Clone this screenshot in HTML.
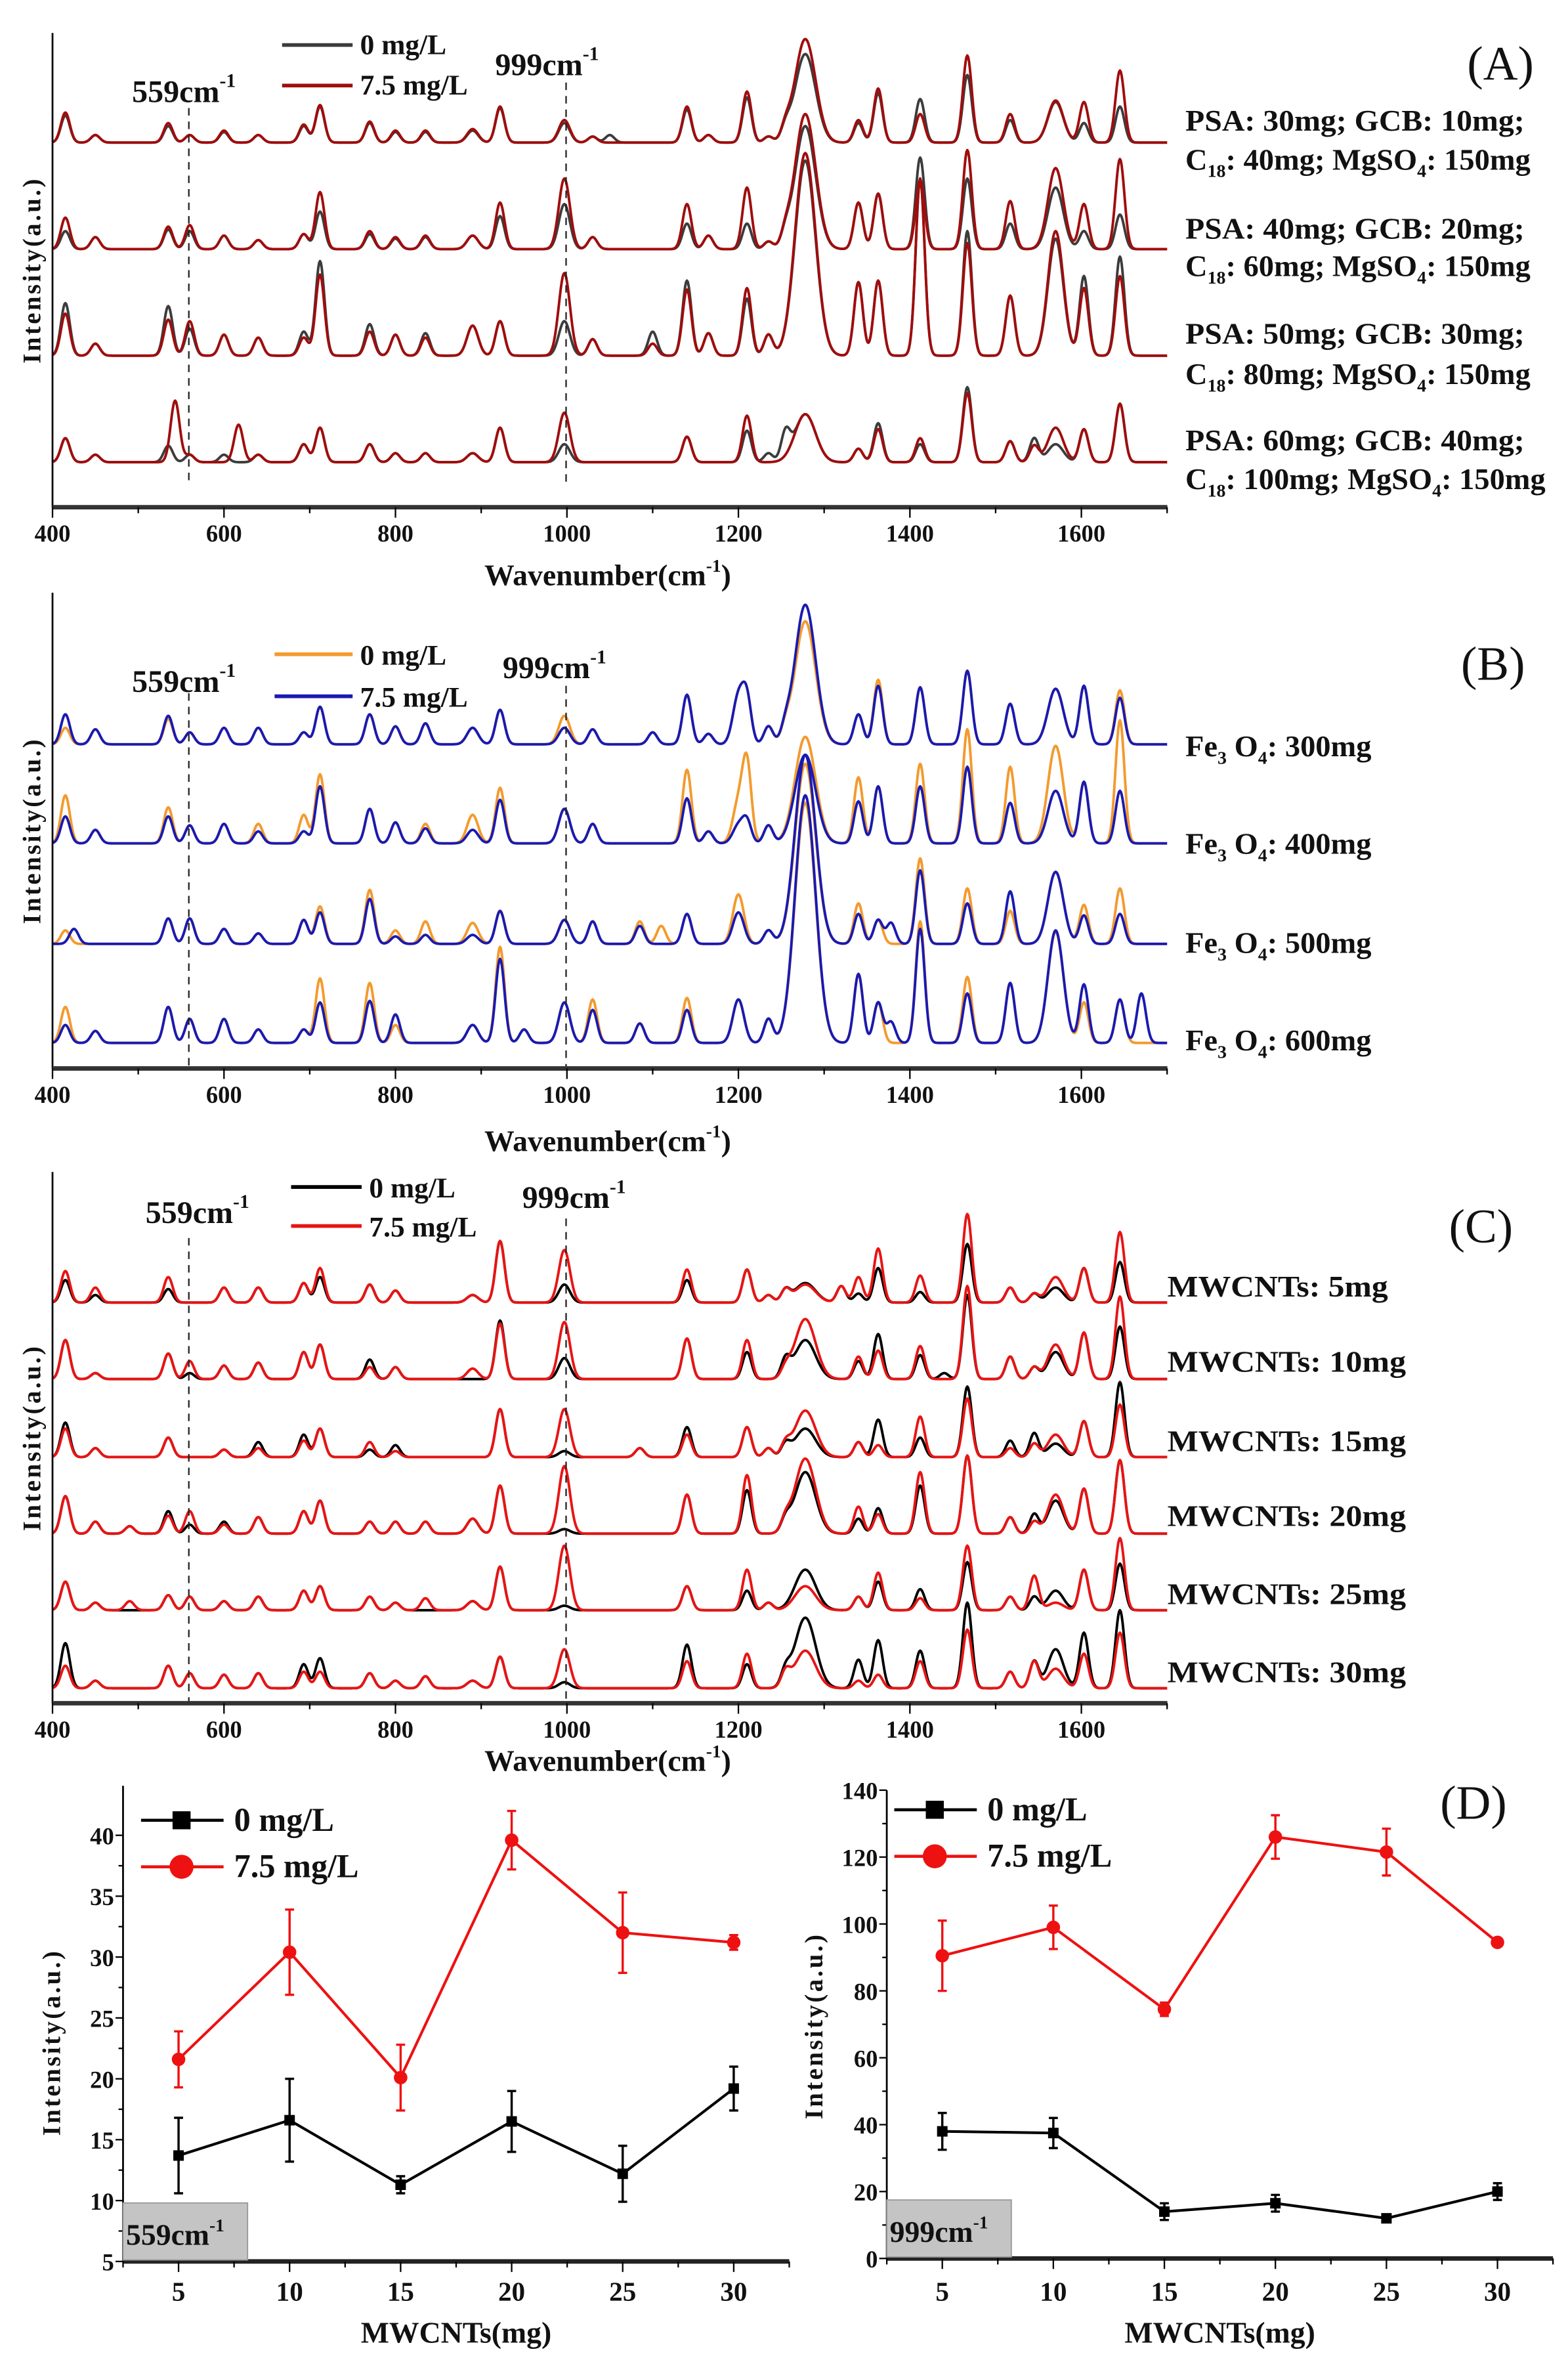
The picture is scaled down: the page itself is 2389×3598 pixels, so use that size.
<!DOCTYPE html>
<html><head><meta charset="utf-8">
<style>
html,body{margin:0;padding:0;background:#fff;}
svg{display:block;}
text{font-family:"Liberation Serif",serif;font-weight:bold;fill:#111;}
</style></head>
<body>
<svg id="fig" xmlns="http://www.w3.org/2000/svg" width="2389" height="3598" viewBox="0 0 1045 1574" preserveAspectRatio="none">
<rect x="0" y="0" width="1045" height="1574" fill="#fff"/>
<g id="layerA"></g>
<g id="layerB"></g>
<g id="layerC"></g>
<g id="layerD"></g>

<!-- Panel A static text -->
<text x="1000" y="53" font-size="32" text-anchor="middle" style="font-weight:normal">(A)</text>
<text x="240" y="36" font-size="19">0 mg/L</text>
<text x="240" y="63" font-size="19">7.5 mg/L</text>
<text x="88" y="68" font-size="21">559cm<tspan dy="-10" font-size="13">-1</tspan></text>
<text x="330" y="50" font-size="21">999cm<tspan dy="-10" font-size="13">-1</tspan></text>
<text x="790" y="87" font-size="20" textLength="226" lengthAdjust="spacingAndGlyphs">PSA: 30mg; GCB: 10mg;</text>
<text x="790" y="113" font-size="20" textLength="230" lengthAdjust="spacingAndGlyphs">C<tspan dy="5" font-size="12">18</tspan><tspan dy="-5">: 40mg; MgSO</tspan><tspan dy="5" font-size="12">4</tspan><tspan dy="-5">: 150mg</tspan></text>
<text x="790" y="159" font-size="20" textLength="226" lengthAdjust="spacingAndGlyphs">PSA: 40mg; GCB: 20mg;</text>
<text x="790" y="184" font-size="20" textLength="230" lengthAdjust="spacingAndGlyphs">C<tspan dy="5" font-size="12">18</tspan><tspan dy="-5">: 60mg; MgSO</tspan><tspan dy="5" font-size="12">4</tspan><tspan dy="-5">: 150mg</tspan></text>
<text x="790" y="229" font-size="20" textLength="226" lengthAdjust="spacingAndGlyphs">PSA: 50mg; GCB: 30mg;</text>
<text x="790" y="256" font-size="20" textLength="230" lengthAdjust="spacingAndGlyphs">C<tspan dy="5" font-size="12">18</tspan><tspan dy="-5">: 80mg; MgSO</tspan><tspan dy="5" font-size="12">4</tspan><tspan dy="-5">: 150mg</tspan></text>
<text x="790" y="300" font-size="20" textLength="226" lengthAdjust="spacingAndGlyphs">PSA: 60mg; GCB: 40mg;</text>
<text x="790" y="326" font-size="20" textLength="240" lengthAdjust="spacingAndGlyphs">C<tspan dy="5" font-size="12">18</tspan><tspan dy="-5">: 100mg; MgSO</tspan><tspan dy="5" font-size="12">4</tspan><tspan dy="-5">: 150mg</tspan></text>

<!-- Panel B static text -->
<text x="995" y="453" font-size="32" text-anchor="middle" style="font-weight:normal">(B)</text>
<text x="240" y="443" font-size="19">0 mg/L</text>
<text x="240" y="471" font-size="19">7.5 mg/L</text>
<text x="88" y="461" font-size="21">559cm<tspan dy="-10" font-size="13">-1</tspan></text>
<text x="335" y="452" font-size="21">999cm<tspan dy="-10" font-size="13">-1</tspan></text>
<text x="790" y="504" font-size="20" textLength="124" lengthAdjust="spacingAndGlyphs">Fe<tspan dy="5" font-size="12">3</tspan><tspan dy="-5"> O</tspan><tspan dy="5" font-size="12">4</tspan><tspan dy="-5">: 300mg</tspan></text>
<text x="790" y="569" font-size="20" textLength="124" lengthAdjust="spacingAndGlyphs">Fe<tspan dy="5" font-size="12">3</tspan><tspan dy="-5"> O</tspan><tspan dy="5" font-size="12">4</tspan><tspan dy="-5">: 400mg</tspan></text>
<text x="790" y="635" font-size="20" textLength="124" lengthAdjust="spacingAndGlyphs">Fe<tspan dy="5" font-size="12">3</tspan><tspan dy="-5"> O</tspan><tspan dy="5" font-size="12">4</tspan><tspan dy="-5">: 500mg</tspan></text>
<text x="790" y="700" font-size="20" textLength="124" lengthAdjust="spacingAndGlyphs">Fe<tspan dy="5" font-size="12">3</tspan><tspan dy="-5"> O</tspan><tspan dy="5" font-size="12">4</tspan><tspan dy="-5">: 600mg</tspan></text>

<!-- Panel C static text -->
<text x="987" y="828" font-size="32" text-anchor="middle" style="font-weight:normal">(C)</text>
<text x="246" y="798" font-size="19">0 mg/L</text>
<text x="246" y="824" font-size="19">7.5 mg/L</text>
<text x="97" y="815" font-size="21">559cm<tspan dy="-10" font-size="13">-1</tspan></text>
<text x="348" y="805" font-size="21">999cm<tspan dy="-10" font-size="13">-1</tspan></text>
<text x="778" y="864" font-size="20" textLength="147" lengthAdjust="spacingAndGlyphs">MWCNTs: 5mg</text>
<text x="778" y="914" font-size="20" textLength="159" lengthAdjust="spacingAndGlyphs">MWCNTs: 10mg</text>
<text x="778" y="967" font-size="20" textLength="159" lengthAdjust="spacingAndGlyphs">MWCNTs: 15mg</text>
<text x="778" y="1017" font-size="20" textLength="159" lengthAdjust="spacingAndGlyphs">MWCNTs: 20mg</text>
<text x="778" y="1069" font-size="20" textLength="159" lengthAdjust="spacingAndGlyphs">MWCNTs: 25mg</text>
<text x="778" y="1121" font-size="20" textLength="159" lengthAdjust="spacingAndGlyphs">MWCNTs: 30mg</text>

<!-- Panel D static text -->
<text x="982" y="1212" font-size="32" text-anchor="middle" style="font-weight:normal">(D)</text>
<text x="156" y="1220" font-size="22">0 mg/L</text>
<text x="156" y="1251" font-size="22">7.5 mg/L</text>
<text x="658" y="1213" font-size="22">0 mg/L</text>
<text x="658" y="1244" font-size="22">7.5 mg/L</text>
<text x="304" y="1561" font-size="20" text-anchor="middle">MWCNTs(mg)</text>
<text x="813" y="1561" font-size="20" text-anchor="middle">MWCNTs(mg)</text>
<text transform="translate(40,1361) rotate(-90)" font-size="17" text-anchor="middle" letter-spacing="1.5">Intensity(a.u.)</text>
<text transform="translate(548,1350) rotate(-90)" font-size="17" text-anchor="middle" letter-spacing="1.5">Intensity(a.u.)</text>
</svg>

<script>
const NS = 'http://www.w3.org/2000/svg';
function mk(tag, attrs, parent) {
  const e = document.createElementNS(NS, tag);
  for (const k in attrs) e.setAttribute(k, attrs[k]);
  parent.appendChild(e);
  return e;
}

// ---------- Spectra data: [wavenumber, intensity] peak lists ----------
const xTicks = [400, 600, 800, 1000, 1200, 1400, 1600];

const A1_0 = [[415,18],[450,5],[535,11],[560,5],[600,7],[640,5],[693,11],[712,24],[770,13],[800,7],[835,7],[890,8],[922,23],[997,13],[1030,4],[1050,5],[1140,22],[1165,5],[1210,30],[1235,4],[1255,8],[1278,59],[1340,13],[1363,33],[1412,29],[1467,45],[1517,15],[1570,27],[1603,13],[1645,24]];
const A1_7 = [[415,20],[450,5],[535,13],[560,5],[600,8],[640,5],[693,12],[712,25],[770,14],[800,8],[835,8],[890,9],[922,24],[997,15],[1030,4],[1140,24],[1165,5],[1210,34],[1235,4],[1255,8],[1278,69],[1340,15],[1363,36],[1412,19],[1467,58],[1517,19],[1570,28],[1603,27],[1645,48]];
const A2_0 = [[415,12],[450,8],[535,13],[560,12],[600,9],[640,6],[693,10],[712,25],[770,10],[800,7],[835,8],[890,9],[922,22],[997,30],[1030,8],[1140,17],[1165,9],[1210,17],[1235,5],[1255,8],[1278,82],[1340,31],[1363,37],[1412,61],[1467,47],[1517,17],[1570,41],[1603,12],[1645,23]];
const A2_7 = [[415,21],[450,8],[535,15],[560,16],[600,9],[640,6],[693,10],[712,38],[770,12],[800,8],[835,9],[890,9],[922,31],[997,47],[1030,8],[1140,30],[1165,9],[1210,41],[1235,5],[1255,8],[1278,90],[1340,31],[1363,37],[1412,46],[1467,66],[1517,32],[1570,54],[1603,30],[1645,60]];
const A3_0 = [[415,35],[450,8],[535,33],[560,18],[600,14],[640,12],[693,16],[712,63],[770,21],[800,14],[835,15],[890,20],[922,23],[997,23],[1030,11],[1100,16],[1140,50],[1165,15],[1210,38],[1235,14],[1278,130],[1340,49],[1363,50],[1412,118],[1467,83],[1517,40],[1570,78],[1603,53],[1645,66]];
const A3_7 = [[415,28],[450,8],[535,24],[560,23],[600,14],[640,12],[693,12],[712,54],[770,16],[800,14],[835,12],[890,20],[922,23],[997,55],[1030,11],[1100,8],[1140,44],[1165,15],[1210,45],[1235,14],[1278,135],[1340,49],[1363,50],[1412,118],[1467,75],[1517,40],[1570,83],[1603,45],[1645,53]];
const A4_0 = [[415,16],[450,5],[535,11],[560,5],[600,5],[640,5],[693,12],[712,23],[770,12],[800,6],[835,6],[890,6],[922,23],[997,12],[1140,17],[1210,21],[1235,6],[1255,18],[1278,32],[1340,9],[1363,26],[1412,12],[1467,50],[1517,14],[1545,16],[1570,12],[1603,22],[1645,39]];
const A4_7 = [[415,16],[450,5],[543,41],[560,5],[617,25],[640,5],[693,12],[712,23],[770,12],[800,6],[835,6],[890,6],[922,23],[997,33],[1140,17],[1210,31],[1278,32],[1340,9],[1363,22],[1412,16],[1467,46],[1517,14],[1545,11],[1570,23],[1603,22],[1645,39]];

const B1_0 = [[415,11],[450,10],[535,17],[560,8],[600,11],[640,11],[693,8],[712,25],[770,20],[800,12],[835,14],[890,11],[922,23],[997,19],[1030,10],[1100,8],[1140,33],[1165,7],[1200,32],[1210,28],[1235,12],[1255,8],[1278,82],[1340,20],[1363,43],[1412,38],[1467,49],[1517,27],[1570,37],[1603,39],[1645,36]];
const B1_7 = [[415,20],[450,10],[535,19],[560,8],[600,11],[640,11],[693,8],[712,25],[770,20],[800,12],[835,14],[890,11],[922,23],[997,11],[1030,10],[1100,8],[1140,33],[1165,7],[1200,32],[1210,28],[1235,12],[1255,8],[1278,93],[1340,20],[1363,39],[1412,38],[1467,49],[1517,27],[1570,37],[1603,39],[1645,31]];
const B2_0 = [[415,32],[450,9],[535,24],[560,12],[600,13],[640,13],[693,19],[712,46],[770,23],[800,14],[835,13],[890,19],[922,37],[997,23],[1030,13],[1140,49],[1165,8],[1200,27],[1210,51],[1235,12],[1278,71],[1340,44],[1363,38],[1412,53],[1467,76],[1517,51],[1570,65],[1603,41],[1645,82]];
const B2_7 = [[415,18],[450,9],[535,18],[560,12],[600,13],[640,8],[693,8],[712,38],[770,23],[800,14],[835,10],[890,9],[922,29],[997,23],[1030,13],[1140,30],[1165,8],[1200,12],[1210,14],[1235,12],[1278,59],[1340,28],[1363,38],[1412,38],[1467,51],[1517,27],[1570,35],[1603,41],[1645,35]];
const B3_0 = [[415,9],[535,17],[560,17],[600,10],[640,7],[693,16],[712,25],[770,36],[800,9],[835,15],[890,14],[922,22],[997,16],[1030,15],[1085,15],[1110,12],[1140,20],[1200,33],[1235,9],[1278,120],[1340,27],[1363,16],[1412,57],[1467,37],[1517,22],[1570,48],[1603,26],[1645,37]];
const B3_7 = [[425,10],[535,17],[560,17],[600,10],[640,7],[693,16],[712,21],[770,30],[800,5],[835,6],[890,6],[922,22],[997,16],[1030,15],[1085,12],[1140,20],[1200,21],[1235,9],[1278,126],[1340,20],[1363,16],[1378,14],[1412,49],[1467,27],[1517,35],[1570,48],[1603,19],[1645,20]];
const B4_0 = [[415,24],[450,8],[535,24],[560,16],[600,16],[640,9],[693,9],[712,43],[770,40],[800,12],[890,12],[922,64],[950,9],[997,27],[1030,29],[1085,13],[1140,30],[1200,29],[1235,16],[1278,160],[1340,46],[1363,27],[1412,81],[1467,44],[1517,40],[1570,74],[1603,27],[1645,29]];
const B4_7 = [[415,12],[450,8],[535,24],[560,16],[600,16],[640,9],[693,9],[712,27],[770,28],[800,19],[890,12],[922,56],[950,9],[997,27],[1030,22],[1085,13],[1140,22],[1200,29],[1235,16],[1278,165],[1340,46],[1363,27],[1378,14],[1412,76],[1467,33],[1517,40],[1570,75],[1603,39],[1645,29],[1670,33]];

const C1_0 = [[415,15],[450,5],[535,9],[600,10],[640,10],[693,13],[712,17],[770,12],[800,8],[890,5],[922,41],[997,12],[1140,15],[1210,22],[1235,5],[1255,8],[1278,13],[1320,11],[1340,6],[1363,23],[1412,7],[1467,39],[1517,10],[1545,6],[1570,10],[1603,23],[1645,27]];
const C1_7 = [[415,21],[450,10],[535,17],[600,10],[640,10],[693,13],[712,23],[770,12],[800,8],[890,5],[922,41],[997,35],[1140,22],[1210,22],[1235,5],[1255,8],[1278,12],[1320,11],[1340,17],[1363,36],[1412,18],[1467,59],[1517,10],[1545,6],[1570,17],[1603,23],[1645,47]];
const C2_0 = [[415,26],[450,4],[535,17],[560,4],[600,9],[640,11],[693,18],[712,23],[770,13],[800,8],[922,39],[997,14],[1140,27],[1210,18],[1255,12],[1278,26],[1340,12],[1363,30],[1412,16],[1440,4],[1467,56],[1517,15],[1545,8],[1570,18],[1603,31],[1645,35]];
const C2_7 = [[415,26],[450,4],[535,17],[560,12],[600,9],[640,11],[693,18],[712,23],[770,8],[800,8],[890,7],[922,37],[997,38],[1140,27],[1210,26],[1255,6],[1278,40],[1340,15],[1363,19],[1412,22],[1467,62],[1517,15],[1545,8],[1570,23],[1603,31],[1645,55]];
const C3_0 = [[415,23],[450,6],[535,13],[600,5],[640,10],[693,15],[712,19],[770,5],[800,8],[922,32],[997,4],[1085,6],[1140,20],[1210,20],[1235,6],[1255,8],[1278,19],[1340,10],[1363,25],[1412,13],[1467,47],[1517,11],[1545,16],[1570,9],[1603,24],[1645,50]];
const C3_7 = [[415,19],[450,6],[535,13],[600,5],[640,6],[693,11],[712,19],[770,10],[800,4],[922,32],[997,32],[1085,6],[1140,15],[1210,20],[1235,6],[1255,8],[1278,31],[1340,10],[1363,8],[1412,27],[1467,39],[1517,6],[1545,9],[1570,15],[1603,24],[1645,35]];
const C4_0 = [[415,25],[450,8],[490,5],[535,15],[560,6],[600,8],[640,11],[693,15],[712,22],[770,8],[800,8],[835,8],[890,10],[922,32],[997,3],[1140,26],[1210,29],[1255,8],[1278,41],[1340,10],[1363,17],[1412,32],[1467,52],[1517,11],[1545,13],[1570,22],[1603,30],[1645,49]];
const C4_7 = [[415,25],[450,8],[490,5],[535,12],[560,15],[600,6],[640,11],[693,15],[712,22],[770,8],[800,8],[835,8],[890,10],[922,32],[997,45],[1140,26],[1210,39],[1255,8],[1278,50],[1340,18],[1363,13],[1412,41],[1467,52],[1517,11],[1545,8],[1570,26],[1603,30],[1645,49]];
const C5_0 = [[415,19],[450,5],[535,10],[560,9],[600,6],[640,9],[693,13],[712,16],[770,9],[800,5],[890,6],[922,29],[997,3],[1140,16],[1210,13],[1235,5],[1278,27],[1340,9],[1363,19],[1412,14],[1467,32],[1517,9],[1545,9],[1570,13],[1603,27],[1645,31]];
const C5_7 = [[415,19],[450,5],[490,6],[535,10],[560,9],[600,6],[640,9],[693,13],[712,16],[770,9],[800,5],[835,8],[890,6],[922,29],[997,43],[1140,16],[1210,27],[1235,5],[1278,16],[1340,9],[1363,25],[1412,8],[1467,43],[1517,9],[1545,23],[1570,5],[1603,27],[1645,48]];
const C6_0 = [[415,30],[450,5],[535,15],[560,10],[600,9],[640,10],[693,16],[712,20],[770,10],[800,5],[835,8],[890,5],[922,21],[997,4],[1140,29],[1210,16],[1255,10],[1278,47],[1340,19],[1363,32],[1412,25],[1467,57],[1517,11],[1545,18],[1570,26],[1603,37],[1645,52]];
const C6_7 = [[415,15],[450,5],[535,15],[560,10],[600,9],[640,10],[693,11],[712,11],[770,10],[800,5],[835,8],[890,5],[922,21],[997,26],[1140,18],[1210,23],[1255,10],[1278,25],[1340,5],[1363,9],[1412,18],[1467,39],[1517,11],[1545,18],[1570,13],[1603,23],[1645,37]];

// ---------- Panel D data ----------
const dCategories = [5, 10, 15, 20, 25, 30];
const d559Black = [13.7, 16.6, 11.3, 16.5, 12.2, 19.2];
const d559BlackErr = [3.1, 3.4, 0.7, 2.5, 2.3, 1.8];
const d559Red = [21.6, 30.4, 20.1, 39.6, 32.0, 31.2];
const d559RedErr = [2.3, 3.5, 2.7, 2.4, 3.3, 0.6];
const d999Black = [38, 37.5, 14, 16.5, 12, 20];
const d999BlackErr = [5.5, 4.5, 2.5, 2.5, 1, 2.5];
const d999Red = [90.5, 99, 74.5, 126, 121.5, 94.5];
const d999RedErr = [10.5, 6.5, 2, 6.5, 7, 1];
const d559Ticks = [5, 10, 15, 20, 25, 30, 35, 40];
const d999Ticks = [0, 20, 40, 60, 80, 100, 120, 140];

// ---------- Spectra drawing ----------
function xw(w) { return 35 + (w - 400) * 0.5714; }
function sigma(p) {
  if (p === 1278) return 12;
  if (p === 1570) return 9;
  if (p === 997 || p === 890 || p === 1200) return 6.5;
  return 5.2;
}
function spectrumPath(peaks, base) {
  let d = '';
  for (let w = 400; w <= 1700; w += 1) {
    let s = 0;
    for (const pk of peaks) {
      const g = sigma(pk[0]);
      const dx = w - pk[0];
      if (Math.abs(dx) < 5 * g) s += pk[1] * Math.exp(-dx * dx / (2 * g * g));
    }
    d += (w === 400 ? 'M' : 'L') + xw(w).toFixed(2) + ',' + (base - s).toFixed(2);
  }
  return d;
}

const panels = [
  {id:'layerA', key:'a', top:22, bottom:338, bases:[95,166,237,308], c0:'#3c3c3c', c7:'#a00d0d',
   series:[[A1_0,A1_7],[A2_0,A2_7],[A3_0,A3_7],[A4_0,A4_7]], leg:[188,235,30,57], d559:[72,322], d999:[55,322], xl:390},
  {id:'layerB', key:'b', top:395, bottom:712, bases:[496,562,629,695], c0:'#f39a2e', c7:'#1a1ab0',
   series:[[B1_0,B1_7],[B2_0,B2_7],[B3_0,B3_7],[B4_0,B4_7]], leg:[183,235,436,464], d559:[462,712], d999:[457,712], xl:767},
  {id:'layerC', key:'c', top:781, bottom:1135, bases:[868,919,971,1022,1073,1125], c0:'#000000', c7:'#e81414',
   series:[[C1_0,C1_7],[C2_0,C2_7],[C3_0,C3_7],[C4_0,C4_7],[C5_0,C5_7],[C6_0,C6_7]], leg:[194,241,791,817], d559:[825,1135], d999:[812,1135], xl:1180}
];

for (const P of panels) {
  const g = document.getElementById(P.id);
  P.series.forEach((pair, i) => {
    const p0 = mk('path', {d: spectrumPath(pair[0], P.bases[i]), fill:'none', stroke:P.c0, 'stroke-width':1.7, 'stroke-linejoin':'round'}, g);
    
    
    const p7 = mk('path', {d: spectrumPath(pair[1], P.bases[i]), fill:'none', stroke:P.c7, 'stroke-width':1.7, 'stroke-linejoin':'round'}, g);
    
    
  });
  const dl1 = mk('line', {x1:xw(559), x2:xw(559), y1:P.d559[0], y2:P.d559[1], stroke:'#222', 'stroke-width':1, 'stroke-dasharray':'5,4'}, g);
  
  
  const dl2 = mk('line', {x1:xw(999), x2:xw(999), y1:P.d999[0], y2:P.d999[1], stroke:'#222', 'stroke-width':1, 'stroke-dasharray':'5,4'}, g);
  
  
  const ya = mk('line', {x1:35, x2:35, y1:P.top, y2:P.bottom, stroke:'#000', 'stroke-width':1.2}, g);
  
  
  const xa = mk('line', {x1:35, x2:778, y1:P.bottom, y2:P.bottom, stroke:'#333', 'stroke-width':3}, g);
  
  
  for (let w = 400; w <= 1700; w += 100) {
    const major = xTicks.indexOf(w) >= 0;
    const t = mk('line', {x1:xw(w), x2:xw(w), y1:P.bottom, y2:P.bottom + (major ? 7 : 4), stroke:'#000', 'stroke-width':1}, g);
    
    
  }
  xTicks.forEach(w => {
    const t = mk('text', {x:xw(w), y:P.bottom + 23, 'font-size':16, 'text-anchor':'middle'}, g);
    t.textContent = w;
    
    
  });
  const xlab = mk('text', {x:405, y:P.xl, 'font-size':20, 'text-anchor':'middle'}, g);
  xlab.innerHTML = 'Wavenumber(cm<tspan dy="-9" font-size="12">-1</tspan><tspan dy="9">)</tspan>';
  
  
  const ylab = mk('text', {transform:'translate(27,' + ((P.top + P.bottom) / 2) + ') rotate(-90)', 'font-size':17, 'text-anchor':'middle', 'letter-spacing':1.5}, g);
  ylab.textContent = 'Intensity(a.u.)';
  
  
  const l0 = mk('line', {x1:P.leg[0], x2:P.leg[1], y1:P.leg[2], y2:P.leg[2], stroke:P.c0, 'stroke-width':2.5}, g);
  
  
  const l7 = mk('line', {x1:P.leg[0], x2:P.leg[1], y1:P.leg[3], y2:P.leg[3], stroke:P.c7, 'stroke-width':2.5}, g);
  
  
}

// ---------- Panel D ----------
const gD = document.getElementById('layerD');
function drawD(cfg) {
  const xs = v => cfg.x0 + (v - 5) * 14.8;
  const ys = v => cfg.yb - (v - cfg.vmin) * cfg.k;
  const ya = mk('line', {x1:cfg.ax, x2:cfg.ax, y1:cfg.ytop, y2:cfg.yb, stroke:'#000', 'stroke-width':1.2}, gD);
  
  
  const xa = mk('line', {x1:cfg.ax, x2:cfg.xend, y1:cfg.yb, y2:cfg.yb, stroke:'#222', 'stroke-width':3}, gD);
  
  
  cfg.ticks.forEach((v, i) => {
    const t = mk('line', {x1:cfg.ax - 5, x2:cfg.ax, y1:ys(v), y2:ys(v), stroke:'#000', 'stroke-width':1}, gD);
    
    
    if (i < cfg.ticks.length - 1) {
      const mv = (v + cfg.ticks[i + 1]) / 2;
      const m = mk('line', {x1:cfg.ax - 3, x2:cfg.ax, y1:ys(mv), y2:ys(mv), stroke:'#000', 'stroke-width':1}, gD);
      
      
    }
    const lb = mk('text', {x:cfg.ax - 6, y:ys(v) + 6, 'font-size':16, 'text-anchor':'end'}, gD);
    lb.textContent = v;
    
    
  });
  for (let v = 2.5; v <= 32.5; v += 2.5) {
    const major = dCategories.indexOf(v) >= 0;
    const t = mk('line', {x1:xs(v), x2:xs(v), y1:cfg.yb, y2:cfg.yb + (major ? 7 : 4), stroke:'#000', 'stroke-width':1}, gD);
    
    
  }
  dCategories.forEach(v => {
    const lb = mk('text', {x:xs(v), y:1533, 'font-size':18, 'text-anchor':'middle'}, gD);
    lb.textContent = v;
    
    
  });
  const series = [[cfg.black, cfg.blackErr, '#000', 'square', '0mg'], [cfg.red, cfg.redErr, '#ee1111', 'circle', '7-5mg']];
  series.forEach(s => {
    const vals = s[0], errs = s[1], col = s[2];
    let d = '';
    vals.forEach((v, i) => { d += (i ? 'L' : 'M') + xs(dCategories[i]) + ',' + ys(v); });
    const ln = mk('path', {d:d, fill:'none', stroke:col, 'stroke-width':1.8}, gD);
    
    
    vals.forEach((v, i) => {
      const x = xs(dCategories[i]);
      const e = mk('path', {d:'M' + x + ',' + ys(v - errs[i]) + 'L' + x + ',' + ys(v + errs[i]) + 'M' + (x - 3) + ',' + ys(v - errs[i]) + 'L' + (x + 3) + ',' + ys(v - errs[i]) + 'M' + (x - 3) + ',' + ys(v + errs[i]) + 'L' + (x + 3) + ',' + ys(v + errs[i]), stroke:col, 'stroke-width':1.5, fill:'none'}, gD);
      
      
      let mkr;
      if (s[3] === 'square') mkr = mk('rect', {x:x - 3.5, y:ys(v) - 3.5, width:7, height:7, fill:col}, gD);
      else mkr = mk('circle', {cx:x, cy:ys(v), r:4.5, fill:col}, gD);
      
      
    });
  });
  const lg0 = mk('line', {x1:cfg.lx, x2:cfg.lx + 55, y1:cfg.ly, y2:cfg.ly, stroke:'#000', 'stroke-width':2}, gD);
  
  
  const lgs = mk('rect', {x:cfg.lx + 21, y:cfg.ly - 6, width:12, height:12, fill:'#000'}, gD);
  
  
  const lg7 = mk('line', {x1:cfg.lx, x2:cfg.lx + 55, y1:cfg.ly + 31, y2:cfg.ly + 31, stroke:'#ee1111', 'stroke-width':2}, gD);
  
  
  const lgc = mk('circle', {cx:cfg.lx + 27, cy:cfg.ly + 31, r:8, fill:'#ee1111'}, gD);
  
  
  const bx = mk('rect', {x:cfg.ax, y:cfg.yb - 39, width:83, height:38, fill:'#c4c4c4', stroke:'#999', 'stroke-width':0.8}, gD);
  
  
  const bt = mk('text', {x:cfg.ax + 2, y:cfg.yb - 11, 'font-size':20}, gD);
  bt.innerHTML = cfg.label + 'cm<tspan dy="-9" font-size="12">-1</tspan>';
  
  
}
drawD({key:'d-559', x0:119, ax:82, xend:526, yb:1507, ytop:1190, vmin:5, k:8.114, ticks:d559Ticks,
       black:d559Black, blackErr:d559BlackErr, red:d559Red, redErr:d559RedErr, lx:94, ly:1213, label:'559'});
drawD({key:'d-999', x0:628, ax:591, xend:1035, yb:1505, ytop:1193, vmin:0, k:2.229, ticks:d999Ticks,
       black:d999Black, blackErr:d999BlackErr, red:d999Red, redErr:d999RedErr, lx:596, ly:1206, label:'999'});
</script>
</body></html>
